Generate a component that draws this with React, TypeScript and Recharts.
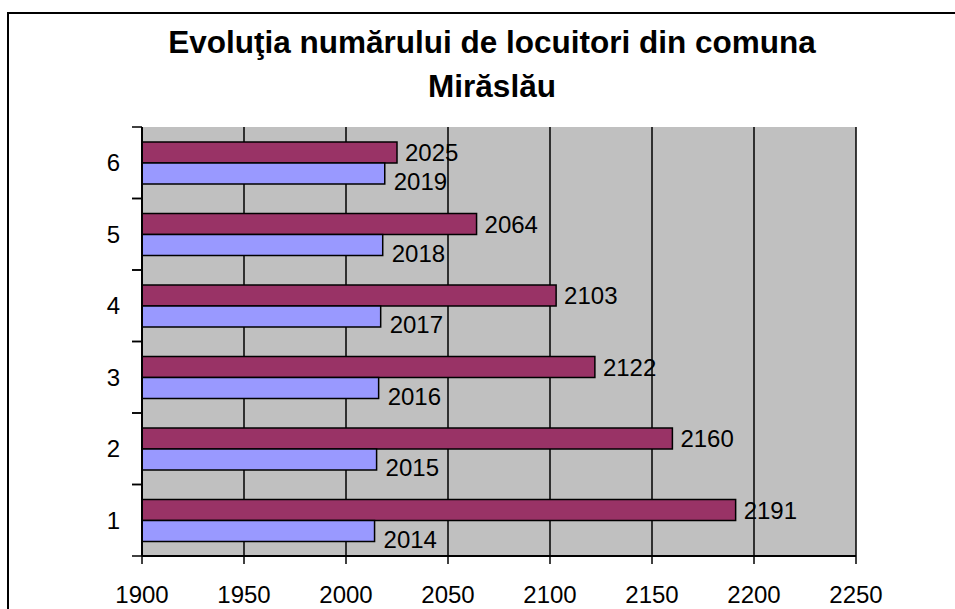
import React from "react";
import {
  BarChart,
  Bar,
  XAxis,
  YAxis,
  CartesianGrid,
  LabelList,
} from "recharts";

const categories = ["1", "2", "3", "4", "5", "6"];
const populationValues = [2191, 2160, 2122, 2103, 2064, 2025];
const yearValues = [2014, 2015, 2016, 2017, 2018, 2019];
const xTicks = [1900, 1950, 2000, 2050, 2100, 2150, 2200, 2250];
const titleLines = ["Evoluţia numărului de locuitori din comuna", "Mirăslău"];

const data = categories.map((c, i) => ({
  cat: c,
  pop: populationValues[i],
  year: yearValues[i],
}));

const FONT = "'Liberation Sans', Arial, sans-serif";

const CategoryTick = (props: any) => {
  const { x, y, payload } = props;
  const off = payload && typeof payload.offset === "number" ? payload.offset : 0;
  return (
    <g>
      <line x1={x - 10} x2={x} y1={y - off} y2={y - off} stroke="#000" strokeWidth={1.5} />
      <line x1={x - 10} x2={x} y1={y + off} y2={y + off} stroke="#000" strokeWidth={1.5} />
      <text
        x={x - 22}
        y={y}
        dy="0.355em"
        textAnchor="end"
        fontSize={24}
        fontFamily={FONT}
        fill="#000"
      >
        {payload.value}
      </text>
    </g>
  );
};

const makeLabel = (gap: number, extraDy: number) => (props: any) => {
  const { x, y, width, height, value } = props;
  return (
    <text
      x={Number(x) + Number(width) + gap}
      y={Number(y) + Number(height) / 2 + extraDy}
      dy="0.355em"
      textAnchor="start"
      fontSize={24}
      fontFamily={FONT}
      fill="#000"
    >
      {value}
    </text>
  );
};

export default function App() {
  return (
    <div
      style={{
        position: "absolute",
        left: 0,
        top: 0,
        width: 955,
        height: 609,
        overflow: "hidden",
        background: "#fff",
      }}
    >
      <div
        style={{
          position: "absolute",
          left: 7,
          top: 12,
          width: 1000,
          height: 700,
          border: "2px solid #000",
          boxSizing: "border-box",
        }}
      />
      <svg
        width={955}
        height={120}
        style={{ position: "absolute", left: 0, top: 0 }}
      >
        <text
          x={492}
          y={53}
          textAnchor="middle"
          fontSize={31.5}
          fontWeight="bold"
          fontFamily={FONT}
          fill="#000"
        >
          {titleLines[0]}
        </text>
        <text
          x={492}
          y={97}
          textAnchor="middle"
          fontSize={31.5}
          fontWeight="bold"
          fontFamily={FONT}
          fill="#000"
        >
          {titleLines[1]}
        </text>
      </svg>
      <div style={{ position: "absolute", left: 0, top: 0 }}>
        <BarChart
          width={955}
          height={609}
          data={data}
          layout="vertical"
          margin={{ top: 127, right: 99, bottom: 0, left: 82 }}
          barCategoryGap={15}
          barGap={0}
        >
          <CartesianGrid
            horizontal={false}
            vertical={true}
            stroke="#000"
            strokeWidth={1.5}
            fill="#C0C0C0"
            fillOpacity={1}
          />
          <XAxis
            type="number"
            domain={[1900, 2250]}
            ticks={xTicks}
            allowDataOverflow
            height={53}
            tickSize={8}
            tickMargin={22}
            axisLine={{ stroke: "#000", strokeWidth: 2 }}
            tickLine={{ stroke: "#000", strokeWidth: 1.5 }}
            tick={{ fontSize: 24, fontFamily: FONT, fill: "#000" }}
            interval={0}
          />
          <XAxis
            xAxisId="top"
            orientation="top"
            type="number"
            domain={[1900, 2250]}
            ticks={xTicks}
            height={0}
            tick={false}
            tickLine={false}
            axisLine={{ stroke: "#808080", strokeWidth: 2 }}
          />
          <YAxis
            type="category"
            dataKey="cat"
            reversed
            width={60}
            tickSize={0}
            tickMargin={0}
            tickLine={false}
            axisLine={{ stroke: "#000", strokeWidth: 2 }}
            tick={<CategoryTick />}
            interval={0}
          />
          <YAxis
            yAxisId="right"
            orientation="right"
            type="category"
            dataKey="cat"
            reversed
            width={0}
            tick={false}
            tickLine={false}
            axisLine={{ stroke: "#808080", strokeWidth: 2 }}
          />
          <Bar
            dataKey="pop"
            fill="#993366"
            stroke="#000"
            strokeWidth={1.5}
            isAnimationActive={false}
          >
            <LabelList dataKey="pop" content={makeLabel(8, 0)} />
          </Bar>
          <Bar
            dataKey="year"
            fill="#9999FF"
            stroke="#000"
            strokeWidth={1.5}
            isAnimationActive={false}
          >
            <LabelList dataKey="year" content={makeLabel(9, 8)} />
          </Bar>
        </BarChart>
      </div>
    </div>
  );
}
